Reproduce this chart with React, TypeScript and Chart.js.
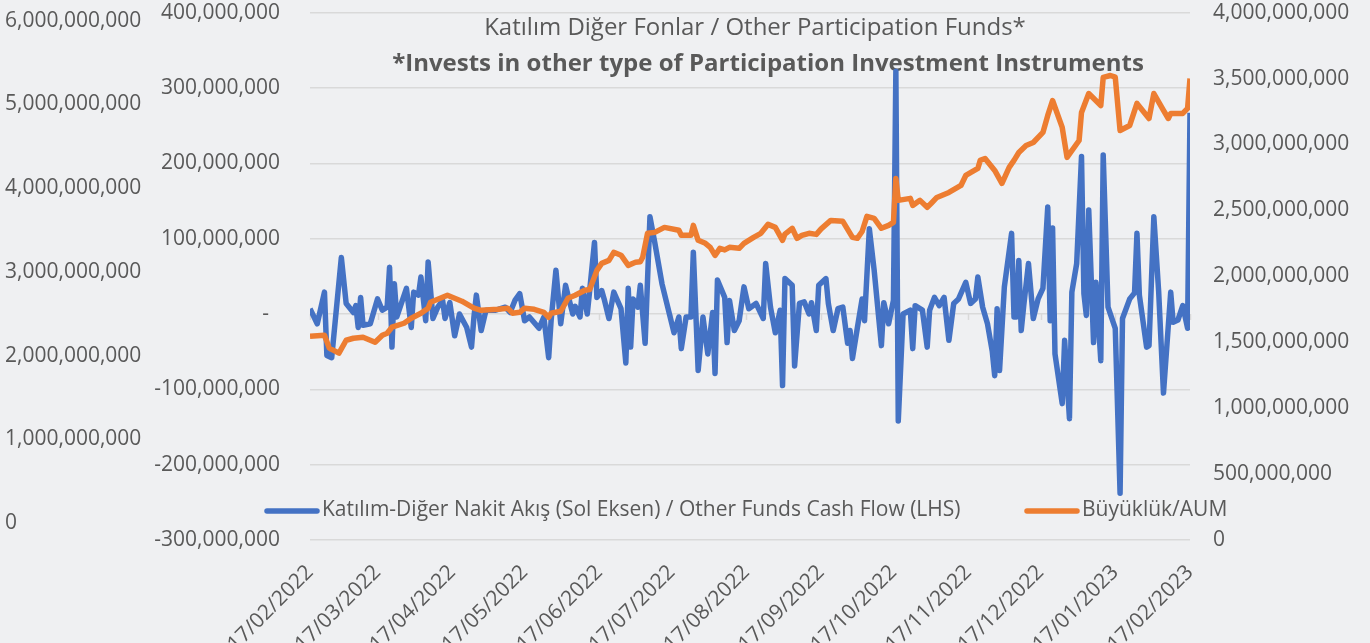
import React, { useEffect, useRef } from 'react';
import { Chart, registerables } from 'chart.js';

Chart.register(...registerables);

// x positions: days after 17/02/2022
const tickDays = [0, 28, 59, 89, 120, 150, 181, 212, 242, 273, 303, 334, 365];
const tickLabels = [
  '17/02/2022', '17/03/2022', '17/04/2022', '17/05/2022', '17/06/2022', '17/07/2022',
  '17/08/2022', '17/09/2022', '17/10/2022', '17/11/2022', '17/12/2022', '17/01/2023', '17/02/2023',
];

// [day, cash flow in millions] (left axis)
const cashFlow: [number, number][] = [
  [0, 7], [3, -13], [6, 29], [7, -55], [9, -58], [13, 75], [15, 14], [18, 2], [19, 11], [20, -18],
  [21, 22], [22, -15], [25, -13], [26, -2], [28, 20], [30, 5], [32, 9], [33, 62], [34, -44], [35, 40],
  [36, -4], [40, 34], [42, -18], [43, 29], [45, 25], [46, 49], [48, -9], [49, 69], [51, -6], [53, 9],
  [55, 18], [56, -6], [58, 15], [60, -29], [62, 0], [65, -18], [67, -44], [68, -4], [69, 25], [71, -22],
  [73, 5], [77, 5], [81, 9], [83, 2], [85, 18], [87, 27], [89, -9], [91, -4], [95, -19], [97, -4],
  [99, -58], [100, -9], [102, 58], [104, -13], [106, 38], [107, 25], [109, 0], [110, 10], [112, -4], [113, 34],
  [115, 0], [116, 31], [118, 95], [119, 22], [121, 31], [122, 20], [124, -6], [126, 29], [129, 7], [131, -65],
  [132, 34], [133, -44], [134, 20], [136, 9], [137, 38], [139, -39], [141, 129], [143, 95], [146, 40], [151, -25],
  [153, -4], [154, -46], [156, -4], [158, -4], [159, 82], [161, -75], [163, -4], [165, -53], [167, 2], [168, -79],
  [169, 45], [172, 22], [173, -38], [174, 18], [176, -22], [178, -9], [180, 36], [182, 7], [185, 14], [188, -6],
  [189, 67], [191, 9], [193, -25], [195, 5], [196, -95], [197, 47], [200, 38], [201, -69], [203, 14], [205, 16],
  [207, 0], [208, 15], [210, -22], [211, 38], [214, 47], [215, 14], [217, -22], [219, 7], [221, 9], [223, -39],
  [224, -22], [225, -59], [227, -19], [229, 20], [230, -9], [232, 113], [234, 58], [237, -42], [238, 15], [240, -13],
  [242, 18], [243, 322], [244, -142], [246, 0], [249, 5], [250, -46], [251, 11], [253, 7], [254, 5], [256, -44],
  [257, 5], [259, 22], [261, 11], [263, 22], [265, -35], [267, 14], [269, 20], [272, 42], [274, 14], [276, 20],
  [277, 49], [279, 9], [281, -13], [283, -50], [284, -82], [285, 7], [286, -75], [288, 36], [291, 107], [292, -4],
  [293, -4], [294, 71], [295, -22], [296, 10], [298, 67], [300, -6], [302, 20], [304, 34], [306, 142], [307, -9],
  [308, 114], [309, -53], [312, -119], [313, -35], [315, -139], [316, 29], [318, 67], [320, 209], [321, 27], [322, -2],
  [323, 138], [325, -38], [326, 42], [328, -62], [329, 211], [331, 9], [334, -19], [336, -238], [337, -6], [340, 20],
  [342, 28], [343, 107], [344, 25], [347, -44], [348, -42], [350, 129], [352, 30], [354, -105], [357, 29], [358, -11],
  [360, -8], [362, 11], [364, -19], [365, 267],
];

// [day, AUM in millions] (right axis)
const aum: [number, number][] = [
  [0, 1545], [6, 1553], [8, 1455], [12, 1417], [15, 1515], [18, 1530], [22, 1538], [27, 1500], [30, 1553], [32, 1568],
  [34, 1614], [39, 1644], [42, 1682], [46, 1720], [49, 1758], [50, 1803], [54, 1833], [57, 1856], [61, 1826], [63, 1811],
  [68, 1758], [71, 1742], [78, 1750], [82, 1758], [84, 1720], [87, 1727], [89, 1758], [93, 1750], [97, 1727], [99, 1689],
  [100, 1720], [104, 1735], [107, 1833], [110, 1856], [114, 1894], [116, 1900], [119, 2045], [121, 2098], [124, 2121], [126, 2182],
  [129, 2160], [132, 2083], [135, 2106], [137, 2110], [138, 2144], [140, 2326], [143, 2333], [147, 2371], [153, 2349], [154, 2311],
  [158, 2311], [159, 2386], [161, 2273], [164, 2250], [166, 2220], [168, 2159], [170, 2212], [172, 2200], [174, 2220], [178, 2212],
  [180, 2250], [184, 2295], [187, 2326], [190, 2394], [193, 2371], [196, 2273], [197, 2320], [200, 2364], [202, 2288], [204, 2310],
  [207, 2326], [210, 2318], [212, 2360], [216, 2424], [221, 2417], [225, 2295], [227, 2288], [229, 2340], [231, 2455], [234, 2440],
  [237, 2364], [240, 2386], [242, 2409], [243, 2742], [244, 2576], [249, 2591], [250, 2538], [253, 2576], [256, 2523], [258, 2560],
  [260, 2598], [265, 2636], [270, 2689], [272, 2765], [277, 2818], [278, 2879], [280, 2894], [284, 2803], [287, 2705], [290, 2826],
  [292, 2879], [294, 2939], [297, 2992], [300, 3015], [304, 3091], [306, 3220], [308, 3333], [312, 3129], [314, 2902], [319, 3030],
  [320, 3242], [323, 3386], [328, 3295], [329, 3508], [332, 3523], [334, 3510], [336, 3106], [340, 3144], [343, 3311], [348, 3197],
  [350, 3386], [354, 3258], [356, 3197], [357, 3235], [362, 3235], [364, 3273], [365, 3500],
];

const leftTicks = [-300, -200, -100, 0, 100, 200, 300, 400];
const rightTicks = [0, 500, 1000, 1500, 2000, 2500, 3000, 3500, 4000];
const bgTicks = [0, 1000, 2000, 3000, 4000, 5000, 6000];

const titleLine1 = 'Katılım Diğer Fonlar / Other Participation Funds*';
const titleLine2 = '*Invests in other type of Participation Investment Instruments';
const seriesFlow = 'Katılım-Diğer Nakit Akış (Sol Eksen) / Other Funds Cash Flow (LHS)';
const seriesAum = 'Büyüklük/AUM';

const BLUE = '#4472C4';
const ORANGE = '#ED7D31';
const TEXT = '#595959';
const GRID = '#d9d9d9';
const FONT = '"Open Sans", sans-serif';

const fmt = (m: number) => (m === 0 ? '0' : (m * 1e6).toLocaleString('en-US'));

const overlayPlugin = {
  id: 'overlay',
  beforeDatasetsDraw(chart: any) {
    const ctx = chart.ctx;
    ctx.save();
    // small axis tick marks on the zero line
    const xs = chart.scales.x;
    const y0 = chart.scales.y.getPixelForValue(0);
    ctx.strokeStyle = GRID;
    ctx.lineWidth = 1.5;
    tickDays.forEach((d) => {
      const px = Math.round(xs.getPixelForValue(d)) + 0.5;
      ctx.beginPath();
      ctx.moveTo(px, y0);
      ctx.lineTo(px, y0 + 6);
      ctx.stroke();
    });
    ctx.fillStyle = TEXT;
    ctx.textAlign = 'center';
    ctx.textBaseline = 'middle';
    ctx.font = `24px ${FONT}`;
    ctx.fillText(titleLine1, 755, 28);
    ctx.font = `bold 24px ${FONT}`;
    ctx.fillText(titleLine2, 768, 64);
    ctx.restore();
  },
  afterDraw(chart: any) {
    const ctx = chart.ctx;
    ctx.save();
    ctx.lineWidth = 5.5;
    ctx.lineCap = 'round';
    ctx.strokeStyle = BLUE;
    ctx.beginPath();
    ctx.moveTo(267, 511);
    ctx.lineTo(317, 511);
    ctx.stroke();
    ctx.strokeStyle = ORANGE;
    ctx.beginPath();
    ctx.moveTo(1027, 511);
    ctx.lineTo(1077, 511);
    ctx.stroke();
    ctx.fillStyle = TEXT;
    ctx.textAlign = 'left';
    ctx.textBaseline = 'middle';
    ctx.font = `21px ${FONT}`;
    ctx.fillText(seriesFlow, 322, 510);
    ctx.fillText(seriesAum, 1082, 510);
    ctx.restore();
  },
};

export default function App() {
  const ref = useRef<HTMLCanvasElement>(null);
  useEffect(() => {
    if (!ref.current) return;
    const chart = new Chart(ref.current, {
      type: 'line',
      data: {
        datasets: [
          {
            label: seriesFlow,
            data: cashFlow.map(([d, v]) => ({ x: d, y: v })),
            xAxisID: 'x',
            yAxisID: 'y',
            borderColor: BLUE,
            backgroundColor: BLUE,
            borderWidth: 5.5,
            pointRadius: 0,
            tension: 0,
            borderJoinStyle: 'round',
            order: 1,
          },
          {
            label: seriesAum,
            data: aum.map(([d, v]) => ({ x: d, y: v })),
            xAxisID: 'x',
            yAxisID: 'y2',
            borderColor: ORANGE,
            backgroundColor: ORANGE,
            borderWidth: 5.5,
            pointRadius: 0,
            tension: 0,
            borderJoinStyle: 'round',
            order: 0,
          },
        ],
      },
      options: {
        responsive: true,
        maintainAspectRatio: false,
        animation: false,
        layout: { padding: { left: 5, top: 12, right: 0, bottom: 0 } },
        plugins: {
          legend: { display: false },
          tooltip: { enabled: false },
          title: { display: false },
        },
        scales: {
          x: {
            type: 'linear',
            position: 'bottom',
            min: 0,
            max: 365,
            grid: { display: false },
            border: { display: false },
            afterBuildTicks: (s: any) => {
              s.ticks = tickDays.map((v) => ({ value: v }));
            },
            afterFit: (s: any) => {
              s.height = 103;
            },
            ticks: {
              autoSkip: false,
              minRotation: 45,
              maxRotation: 45,
              padding: 12,
              color: TEXT,
              font: { family: FONT, size: 21 },
              callback: (v: any) => {
                const i = tickDays.indexOf(Number(v));
                return i >= 0 ? tickLabels[i] : '';
              },
            },
          },
          y: {
            type: 'linear',
            position: 'left',
            weight: 0,
            min: -300,
            max: 400,
            afterBuildTicks: (s: any) => {
              s.ticks = leftTicks.map((v) => ({ value: v }));
            },
            afterFit: (s: any) => {
              s.width = 160;
            },
            grid: {
              color: GRID,
              lineWidth: 1.5,
              drawTicks: true,
              tickLength: 30,
              tickColor: 'rgba(0,0,0,0)',
            },
            border: { display: false },
            ticks: {
              padding: 0,
              color: TEXT,
              font: { family: FONT, size: 21 },
              callback: (v: any) => (Number(v) === 0 ? '-  ' : fmt(Number(v))),
            },
          },
          yBg: {
            type: 'linear',
            position: 'left',
            weight: 1,
            min: -203,
            max: 6095,
            afterBuildTicks: (s: any) => {
              s.ticks = bgTicks.map((v) => ({ value: v }));
            },
            afterFit: (s: any) => {
              s.width = 145;
            },
            grid: { display: false, drawTicks: false },
            border: { display: false },
            ticks: {
              crossAlign: 'far',
              padding: 0,
              color: TEXT,
              font: { family: FONT, size: 21 },
              callback: (v: any) => fmt(Number(v)),
            },
          },
          y2: {
            type: 'linear',
            position: 'right',
            min: 0,
            max: 4000,
            afterBuildTicks: (s: any) => {
              s.ticks = rightTicks.map((v) => ({ value: v }));
            },
            afterFit: (s: any) => {
              s.width = 180;
            },
            grid: { display: false, drawTicks: true, tickLength: 23 },
            border: { display: false },
            ticks: {
              padding: 0,
              color: TEXT,
              font: { family: FONT, size: 21 },
              callback: (v: any) => fmt(Number(v)),
            },
          },
        },
      },
      plugins: [overlayPlugin],
    } as any);
    return () => chart.destroy();
  }, []);

  return (
    <div
      style={{
        position: 'fixed',
        left: 0,
        top: 0,
        width: 1370,
        height: 643,
        background: '#eff0f2',
      }}
    >
      <canvas ref={ref} />
    </div>
  );
}
